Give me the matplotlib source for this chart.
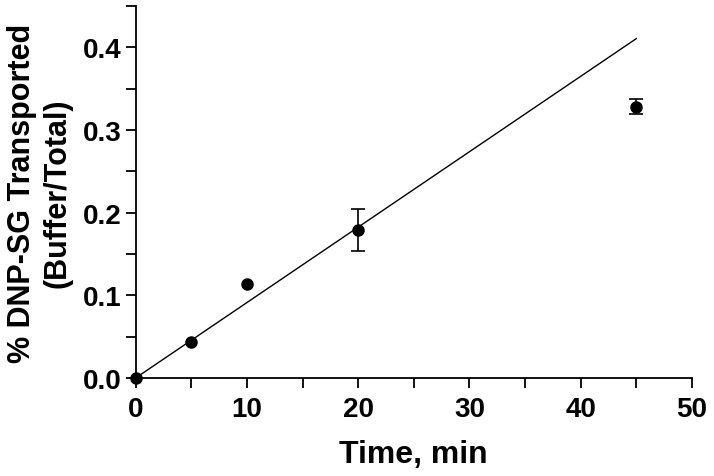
import numpy as np
import matplotlib.pyplot as plt
from matplotlib.ticker import MultipleLocator

# data
time_min = [0, 5, 10, 20, 45]
transported = [0.0, 0.044, 0.114, 0.179, 0.328]
err = [0.0, 0.0, 0.0, 0.025, 0.009]

# linear fit through origin
fit_x = [0, 45]
slope = 0.00912

plt.rcParams['font.family'] = ['Liberation Sans', 'DejaVu Sans']
plt.rcParams['font.weight'] = 'bold'

fig = plt.figure(figsize=(7.14, 4.77), dpi=100)
ax = fig.add_axes([0.19, 0.2055, 0.779, 0.78])

ax.plot(fit_x, [slope * v for v in fit_x], color='black', lw=1.0, zorder=2)

# error bars only where there is an error
ex = [t for t, e in zip(time_min, err) if e > 0]
ey = [v for v, e in zip(transported, err) if e > 0]
ee = [e for e in err if e > 0]
ax.errorbar(ex, ey, yerr=ee, fmt='none', ecolor='black',
            elinewidth=1.2, capsize=5, capthick=1.2, zorder=3)
ax.plot(time_min, transported, 'o', color='black', markersize=8,
        clip_on=False, zorder=4)

ax.set_xlim(0, 50)
ax.set_ylim(0, 0.45)
ax.xaxis.set_major_locator(MultipleLocator(10))
ax.xaxis.set_minor_locator(MultipleLocator(5))
ax.yaxis.set_major_locator(MultipleLocator(0.1))
ax.yaxis.set_minor_locator(MultipleLocator(0.05))
ax.yaxis.set_major_formatter(plt.FormatStrFormatter('%.1f'))

for s in ['top', 'right']:
    ax.spines[s].set_visible(False)
for s in ['left', 'bottom']:
    ax.spines[s].set_linewidth(1.3)

ax.tick_params(which='both', direction='out', width=1.3, labelsize=20)
ax.tick_params(which='major', length=7)
ax.tick_params(which='minor', length=7)
ax.tick_params(axis='x', pad=6)
ax.tick_params(axis='y', pad=3)

ax.set_xlabel('Time, min', fontsize=23, fontweight='bold', labelpad=12)
ax.set_ylabel('% DNP-SG Transported\n(Buffer/Total)', fontsize=22,
              fontweight='bold', linespacing=1.25)
ax.yaxis.set_label_coords(-0.113, 0.5)

fig.savefig('out.png', dpi=100)
